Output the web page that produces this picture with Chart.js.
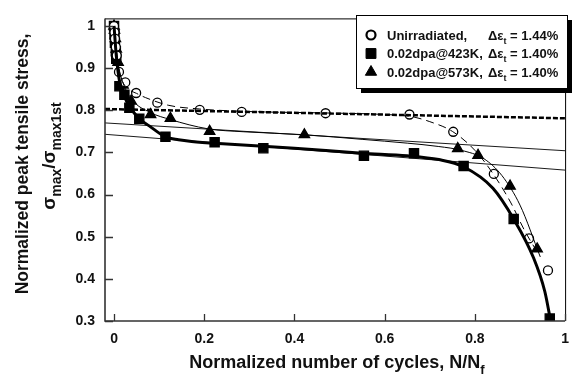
<!DOCTYPE html>
<html>
<head>
<meta charset="utf-8">
<script src="https://cdn.jsdelivr.net/npm/chart.js@4.4.0/dist/chart.umd.min.js"></script>
<style>
html, body { margin: 0; padding: 0; background: #fff; }
</style>
</head>
<body>
<canvas id="graph" width="579" height="375"></canvas>
<script>
const xTicks = [0, 0.2, 0.4, 0.6, 0.8, 1];
const yTicks = [0.3, 0.4, 0.5, 0.6, 0.7, 0.8, 0.9, 1];

// measured points
const unirrX = [0, 0.001, 0.002, 0.004, 0.006, 0.011, 0.025, 0.049, 0.096, 0.19, 0.283, 0.469, 0.655, 0.752, 0.842, 0.92, 0.962];
const unirrY = [1.0, 0.985, 0.97, 0.95, 0.93, 0.891, 0.866, 0.841, 0.818, 0.801, 0.796, 0.793, 0.79, 0.749, 0.649, 0.496, 0.42];
const dpa423X = [0, 0.001, 0.002, 0.004, 0.005, 0.012, 0.023, 0.034, 0.056, 0.114, 0.223, 0.331, 0.554, 0.665, 0.775, 0.886, 0.966];
const dpa423Y = [1.0, 0.98, 0.96, 0.94, 0.922, 0.857, 0.837, 0.806, 0.78, 0.737, 0.724, 0.71, 0.692, 0.698, 0.668, 0.542, 0.306];
const dpa573X = [0, 0.001, 0.003, 0.005, 0.009, 0.02, 0.038, 0.081, 0.125, 0.212, 0.422, 0.762, 0.807, 0.878, 0.938];
const dpa573Y = [1.0, 0.99, 0.97, 0.945, 0.914, 0.86, 0.822, 0.79, 0.781, 0.75, 0.742, 0.709, 0.693, 0.62, 0.471];

// fitted curves
const unirrFitX = [0, 0.005, 0.016, 0.03, 0.05, 0.07, 0.12, 0.19, 0.3, 0.45, 0.6, 0.66, 0.7, 0.75, 0.8, 0.84, 0.88, 0.91, 0.942];
const unirrFitY = [0.99, 0.933, 0.876, 0.852, 0.84, 0.83, 0.812, 0.803, 0.797, 0.794, 0.79, 0.785, 0.773, 0.75, 0.705, 0.65, 0.58, 0.515, 0.457];
const dpa423FitX = [0, 0.005, 0.012, 0.022, 0.035, 0.056, 0.078, 0.114, 0.143, 0.172, 0.25, 0.4, 0.55, 0.65, 0.72, 0.775, 0.84, 0.886, 0.93, 0.955, 0.968];
const dpa423FitY = [1.0, 0.93, 0.87, 0.835, 0.808, 0.78, 0.763, 0.737, 0.730, 0.726, 0.72, 0.71, 0.698, 0.692, 0.683, 0.666, 0.615, 0.542, 0.45, 0.37, 0.30];
const dpa573FitX = [0, 0.01, 0.02, 0.04, 0.08, 0.125, 0.208, 0.288, 0.422, 0.55, 0.65, 0.72, 0.77, 0.82, 0.86, 0.9, 0.945];
const dpa573FitY = [0.99, 0.905, 0.865, 0.825, 0.795, 0.778, 0.756, 0.749, 0.742, 0.731, 0.722, 0.714, 0.705, 0.685, 0.645, 0.575, 0.452];

// linear fits
const unirrLineX = [-0.02, 1.0];
const unirrLineY = [0.803, 0.781];
const dpa573LineX = [-0.02, 1.0];
const dpa573LineY = [0.770, 0.704];
const dpa423LineX = [-0.02, 1.0];
const dpa423LineY = [0.743, 0.658];

const legendLabels = ['Unirradiated,', '0.02dpa@423K,', '0.02dpa@573K,'];
const legendStrain = ['1.44%', '1.40%', '1.40%'];

function toPoints(xs, ys) {
    return xs.map(function (x, i) { return { x: x, y: ys[i] }; });
}

function curve(xs, ys, width, dash) {
    return {
        data: toPoints(xs, ys),
        showLine: true,
        pointRadius: 0,
        borderColor: '#000',
        borderWidth: width,
        borderDash: dash,
        cubicInterpolationMode: 'monotone',
        fill: false
    };
}

function straight(xs, ys, width, dash) {
    return {
        data: toPoints(xs, ys),
        showLine: true,
        pointRadius: 0,
        borderColor: '#000',
        borderWidth: width,
        borderDash: dash,
        tension: 0,
        fill: false
    };
}

function markers(xs, ys, style, radius, fillColor) {
    return {
        data: toPoints(xs, ys),
        pointStyle: style,
        pointRadius: radius,
        pointBorderWidth: 1.3,
        pointBackgroundColor: fillColor,
        pointBorderColor: '#000'
    };
}

const FONT = "'Liberation Sans', Arial, sans-serif";

// draws text with subscripts, parts = [[text, isSub], ...]
function drawRich(ctx, parts, x, y, size, align) {
    const subSize = Math.round(size * 0.72);
    let total = 0;
    parts.forEach(function (p) {
        ctx.font = 'bold ' + (p[1] ? subSize : size) + 'px ' + FONT;
        total += ctx.measureText(p[0]).width;
    });
    let cx = align === 'center' ? x - total / 2 : x;
    ctx.textAlign = 'left';
    ctx.textBaseline = 'alphabetic';
    parts.forEach(function (p) {
        ctx.font = 'bold ' + (p[1] ? subSize : size) + 'px ' + FONT;
        ctx.fillText(p[0], cx, p[1] ? y + size * 0.32 : y);
        cx += ctx.measureText(p[0]).width;
    });
}

const decorations = {
    id: 'decorations',
    afterDraw(chart) {
        const ctx = chart.ctx;
        const a = chart.chartArea;
        const xs = chart.scales.x;
        const ys = chart.scales.y;
        ctx.save();

        // frame
        ctx.strokeStyle = '#000';
        ctx.lineWidth = 1;
        ctx.beginPath();
        ctx.moveTo(a.left, a.top + 0.5);
        ctx.lineTo(a.right + 0.5, a.top + 0.5);
        ctx.lineTo(a.right + 0.5, a.bottom);
        ctx.stroke();

        // axes
        ctx.strokeStyle = '#333';
        ctx.lineWidth = 1.6;
        ctx.beginPath();
        ctx.moveTo(a.left, a.top);
        ctx.lineTo(a.left, a.bottom);
        ctx.lineTo(a.right, a.bottom);
        ctx.stroke();

        // inward ticks
        ctx.lineWidth = 1.3;
        ctx.beginPath();
        xTicks.forEach(function (v) {
            const px = Math.round(xs.getPixelForValue(v)) + 0.5;
            ctx.moveTo(px, a.bottom);
            ctx.lineTo(px, a.bottom - 7);
        });
        yTicks.forEach(function (v) {
            const py = Math.round(ys.getPixelForValue(v)) + 0.5;
            ctx.moveTo(a.left, py);
            ctx.lineTo(a.left + 8, py);
        });
        ctx.stroke();

        // axis titles
        ctx.fillStyle = '#111';
        drawRich(ctx, [['Normalized number of cycles, N/N', false], ['f', true]], 337, 368, 18, 'center');

        ctx.save();
        ctx.rotate(-Math.PI / 2);
        drawRich(ctx, [['Normalized peak tensile stress,', false]], -164, 28, 17.5, 'center');
        drawRich(ctx, [['\u03c3', false], ['max', true], ['/\u03c3', false], ['max1st', true]], -156, 55, 19, 'center');
        ctx.restore();

        // legend box with shadow
        const bx = 356, by = 15, bw = 211, bh = 73;
        ctx.fillStyle = '#000';
        ctx.fillRect(bx + 5, by + 5, bw, bh);
        ctx.fillStyle = '#fff';
        ctx.fillRect(bx, by, bw, bh);
        ctx.strokeStyle = '#000';
        ctx.lineWidth = 1;
        ctx.strokeRect(bx + 0.5, by + 0.5, bw, bh);

        const rowY = [35, 53.5, 72];
        const styles = chart.data.datasets.slice(6);
        const legendRadius = [4.5, 7, 6.5];
        legendLabels.forEach(function (label, i) {
            const ds = styles[i];
            ctx.save();
            ctx.fillStyle = ds.pointBackgroundColor;
            ctx.strokeStyle = '#000';
            ctx.lineWidth = i === 0 ? 2.2 : 1;
            Chart.helpers.drawPoint(ctx, {
                pointStyle: ds.pointStyle,
                radius: legendRadius[i],
                borderWidth: ctx.lineWidth,
                rotation: 0
            }, 371, rowY[i]);
            ctx.restore();
            ctx.fillStyle = '#111';
            drawRich(ctx, [[label, false]], 387, rowY[i] + 4.7, 13, 'left');
            drawRich(ctx, [['\u0394\u03b5', false], ['t', true], [' = ' + legendStrain[i], false]], 488, rowY[i] + 4.7, 13, 'left');
        });

        ctx.restore();
    }
};

const context = document.getElementById('graph');
new Chart(context, {
    type: 'scatter',
    data: {
        datasets: [
            straight(unirrLineX, unirrLineY, 2.5, [5, 2]),
            straight(dpa573LineX, dpa573LineY, 0.9, []),
            straight(dpa423LineX, dpa423LineY, 0.9, []),
            curve(unirrFitX, unirrFitY, 1, [8, 5]),
            curve(dpa573FitX, dpa573FitY, 1, []),
            curve(dpa423FitX, dpa423FitY, 3, []),
            markers(unirrX, unirrY, 'circle', 4.5, '#fff'),
            markers(dpa423X, dpa423Y, 'rect', 6.5, '#000'),
            markers(dpa573X, dpa573Y, 'triangle', 6, '#000')
        ]
    },
    options: {
        responsive: false,
        animation: false,
        layout: { padding: { top: 10, right: 5, left: 0, bottom: 0 } },
        plugins: {
            legend: { display: false },
            tooltip: { enabled: false }
        },
        scales: {
            x: {
                type: 'linear',
                min: -0.02,
                max: 1.0,
                afterFit: function (s) { s.height = 54; },
                afterBuildTicks: function (s) { s.ticks = xTicks.map(function (v) { return { value: v }; }); },
                grid: { display: false, drawTicks: false },
                border: { display: false },
                ticks: {
                    padding: 10,
                    color: '#111',
                    font: { family: FONT, weight: 'bold', size: 14 },
                    callback: function (v) { return String(Math.round(v * 10) / 10); }
                }
            },
            y: {
                type: 'linear',
                min: 0.3,
                max: 1.018,
                afterFit: function (s) { s.width = 105; },
                afterBuildTicks: function (s) { s.ticks = yTicks.map(function (v) { return { value: v }; }); },
                grid: { display: false, drawTicks: false },
                border: { display: false },
                ticks: {
                    padding: 10,
                    color: '#111',
                    font: { family: FONT, weight: 'bold', size: 14 },
                    callback: function (v) { return String(Math.round(v * 10) / 10); }
                }
            }
        }
    },
    plugins: [decorations]
});
</script>
</body>
</html>
